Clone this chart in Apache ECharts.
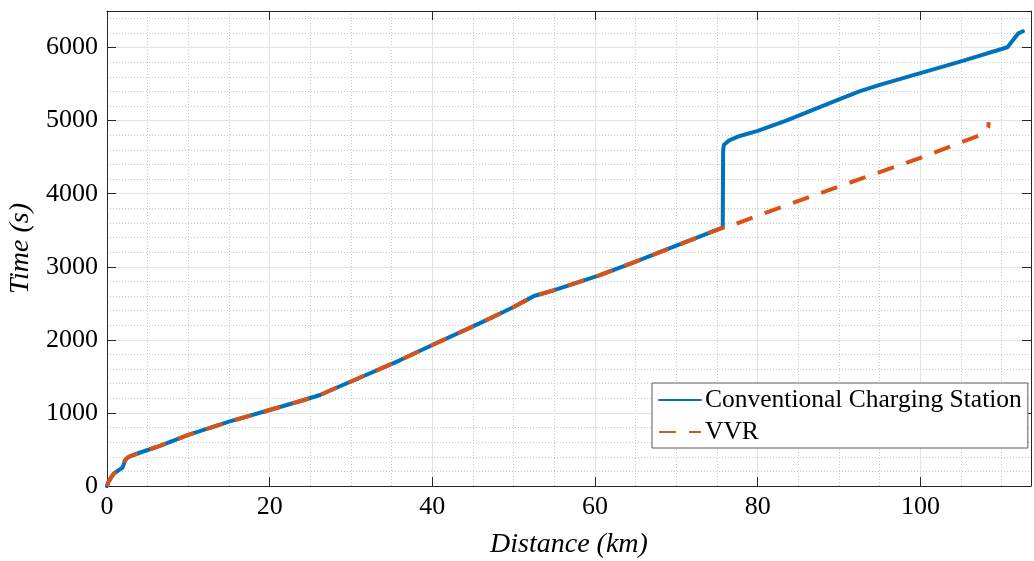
<!DOCTYPE html>
<html>
<head>
<meta charset="utf-8">
<script src="https://cdn.jsdelivr.net/npm/echarts@6/dist/echarts.min.js"></script>
<style>
  html, body { margin: 0; padding: 0; background: #fff; }
  #chart { width: 1034px; height: 561px; }
</style>
</head>
<body>
<div id="chart"></div>
<script>
// Travel path shared by both strategies up to the charging stop (km, s)
const sharedDistance = [0, 0.2, 0.5, 0.8, 1.4, 1.9, 2.05, 2.2, 2.5, 2.9, 4, 6.5, 10, 15, 20, 24, 26.2, 27.5, 30, 36, 40, 45.8, 50, 51.5, 52.5, 55, 60.6, 65, 70, 75.7];
const sharedTime = [0, 60, 115, 165, 215, 250, 290, 350, 385, 410, 455, 550, 700, 880, 1040, 1170, 1245, 1310, 1430, 1720, 1930, 2225, 2450, 2540, 2600, 2680, 2885, 3070, 3290, 3535];

// Conventional charging station: long stop, then remaining trip
const conventionalTailDistance = [75.75, 75.85, 76.5, 77.8, 80, 83.5, 90, 92.5, 95, 100, 105, 110.7, 111.3, 112, 112.6];
const conventionalTailTime = [4600, 4670, 4730, 4790, 4860, 5000, 5290, 5400, 5490, 5650, 5810, 6004, 6090, 6190, 6223];

// VVR: keeps driving, short final stop
const vvrTailDistance = [76.5, 80, 90, 100, 107.3, 108.1, 108.35, 108.4];
const vvrTailTime = [3550, 3700, 4100, 4490, 4800, 4870, 4910, 4980];

const seriesNames = ['Conventional Charging Station', 'VVR'];
const xTicks = { min: 0, max: 113.6, major: 20, minor: 5 };
const yTicks = { min: 0, max: 6500, major: 1000, minor: 200 };

function pairs(xs, ys) { return xs.map((x, i) => [x, ys[i]]); }

const conventionalData = pairs(sharedDistance.concat(conventionalTailDistance), sharedTime.concat(conventionalTailTime));
const vvrData = pairs(sharedDistance.concat(vvrTailDistance), sharedTime.concat(vvrTailTime));

const FONT = 'Liberation Serif';
const AXIS_COLOR = '#262626';
const MINOR_STYLE = { color: '#c8c8c8', width: 1, type: [1, 2] };

const chart = echarts.init(document.getElementById('chart'), null, { renderer: 'canvas' });

const frameAxis = (extra) => Object.assign({
  type: 'value',
  axisLine: { show: true, onZero: false, lineStyle: { color: AXIS_COLOR, width: 1 } },
  axisTick: { show: true, inside: true, length: 9, lineStyle: { color: AXIS_COLOR, width: 1 } },
  axisLabel: { show: false },
  splitLine: { show: false },
  z: 3
}, extra);

// Hidden axis that only contributes the dotted minor grid
const minorGridAxis = (extra) => Object.assign({
  type: 'value',
  axisLine: { show: false },
  axisTick: { show: false },
  axisLabel: { show: false },
  splitLine: { show: true, lineStyle: MINOR_STYLE },
  z: 0
}, extra);

chart.setOption({
  backgroundColor: '#ffffff',
  animation: false,
  grid: { left: 107, right: 3, top: 11, bottom: 75, containLabel: false, outerBoundsMode: 'none' },
  xAxis: [
    {
      type: 'value',
      min: xTicks.min, max: xTicks.max, interval: xTicks.major,
      position: 'bottom',
      name: 'Distance (km)',
      nameLocation: 'middle',
      nameGap: 45,
      nameTextStyle: { fontFamily: FONT, fontSize: 28, fontStyle: 'italic', color: '#000' },
      axisLine: { show: true, onZero: false, lineStyle: { color: AXIS_COLOR, width: 1 } },
      axisTick: { show: true, inside: true, length: 9, lineStyle: { color: AXIS_COLOR } },
      axisLabel: { fontFamily: FONT, fontSize: 26, color: '#000', margin: 8, showMaxLabel: false },
      splitLine: { show: true, lineStyle: { color: '#e3e3e3', width: 1, type: 'solid' } },
      z: 1
    },
    frameAxis({ min: xTicks.min, max: xTicks.max, interval: xTicks.major, position: 'top' }),
    minorGridAxis({ min: xTicks.min, max: xTicks.max, interval: xTicks.minor, position: 'bottom' })
  ],
  yAxis: [
    {
      type: 'value',
      min: yTicks.min, max: yTicks.max, interval: yTicks.major,
      position: 'left',
      name: 'Time (s)',
      nameLocation: 'middle',
      nameGap: 63,
      nameTextStyle: { fontFamily: FONT, fontSize: 28, fontStyle: 'italic', color: '#000' },
      axisLine: { show: true, onZero: false, lineStyle: { color: AXIS_COLOR, width: 1 } },
      axisTick: { show: true, inside: true, length: 9, lineStyle: { color: AXIS_COLOR } },
      axisLabel: { fontFamily: FONT, fontSize: 26, color: '#000', margin: 9, showMaxLabel: false, formatter: (v) => String(v) },
      splitLine: { show: true, lineStyle: { color: '#e3e3e3', width: 1, type: 'solid' } },
      z: 1
    },
    frameAxis({ min: yTicks.min, max: yTicks.max, interval: yTicks.major, position: 'right' }),
    minorGridAxis({ min: yTicks.min, max: yTicks.max, interval: yTicks.minor, position: 'left' })
  ],
  legend: {
    orient: 'vertical',
    left: 652,
    top: 383,
    padding: [3, 6, 2, 6],
    itemWidth: 42,
    itemHeight: 14,
    itemGap: 4,
    backgroundColor: '#ffffff',
    borderColor: '#5a5a5a',
    borderWidth: 1,
    borderRadius: 0,
    itemStyle: { opacity: 0 },
    textStyle: { fontFamily: FONT, fontSize: 25.5, color: '#000', lineHeight: 28, padding: [0, 0, 0, -1] },
    data: seriesNames
  },
  series: [
    {
      name: seriesNames[0],
      type: 'line',
      xAxisIndex: 0, yAxisIndex: 0,
      data: conventionalData,
      symbol: 'none',
      smooth: false,
      lineStyle: { color: '#0072BD', width: 4, cap: 'round', join: 'round' },
      itemStyle: { color: '#0072BD' },
      z: 5
    },
    {
      name: seriesNames[1],
      type: 'line',
      xAxisIndex: 0, yAxisIndex: 0,
      data: vvrData,
      symbol: 'none',
      smooth: false,
      lineStyle: { color: '#D95319', width: 4, type: [17, 13], cap: 'butt', join: 'round' },
      itemStyle: { color: '#D95319' },
      z: 6
    }
  ]
});
</script>
</body>
</html>
